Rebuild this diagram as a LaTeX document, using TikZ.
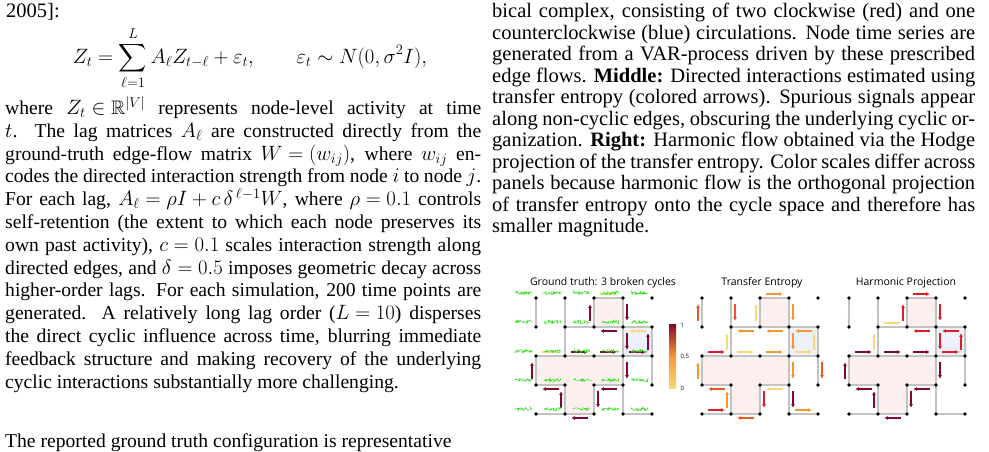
\documentclass[tikz,border=0pt]{standalone}
\usepackage{amsmath, amssymb}
\usepackage{fontspec}
\setmainfont{Liberation Serif}
\newfontfamily\figsans{Open Sans}
\usetikzlibrary{calc, arrows.meta, positioning, decorations.pathmorphing, decorations.markings}
\definecolor{gtred}{RGB}{128,10,40}
\definecolor{tred}{RGB}{220,30,40}
\definecolor{tor}{RGB}{240,85,40}
\definecolor{tora}{RGB}{246,150,50}
\definecolor{tyel}{RGB}{250,215,120}
\definecolor{cyclepink}{RGB}{252,240,238}
\definecolor{cycleblue}{RGB}{238,240,252}
\definecolor{edgegray}{RGB}{195,195,195}
\definecolor{noisegreen}{RGB}{40,225,20}
\thickmuskip=5mu
\medmuskip=4mu
\tikzset{
  gpt/.style={inner sep=0pt, minimum size=0pt},
  gedge/.style={edgegray, line width=1.2pt, postaction={decorate},
    decoration={markings, mark=at position 0.55 with {\arrow{Stealth[length=3pt,width=3pt]}}}},
  flow/.style={line width=1.4pt, -{Latex[length=3.5pt,width=4pt]}},
  noise/.style={noisegreen, line width=0.5pt, decorate,
    decoration={random steps, segment length=0.7pt, amplitude=1.6pt}},
  paneltitle/.style={font=\figsans\fontsize{10.5}{12}\selectfont, anchor=base},
  bodytext/.style={anchor=north west, inner sep=0pt, align=justify}
}
% one panel: x origin, name prefix, flow arrows
\newcommand{\gridpanel}[3]{%
  \begin{scope}[shift={(#1,298)}]
    \foreach \c in {0,...,4}
      \foreach \r in {0,...,4}
        \node[gpt] (#2-\c-\r) at (\c*29,\r*29) {};
  \end{scope}
  % cycles
  \fill[cyclepink] (#2-2-0.center) rectangle (#2-3-1.center);
  \fill[cycleblue] (#2-3-1.center) rectangle (#2-4-2.center);
  \fill[cyclepink] (#2-0-2.center) -- (#2-3-2.center) -- (#2-3-3.center) -- (#2-2-3.center)
    -- (#2-2-4.center) -- (#2-1-4.center) -- (#2-1-3.center) -- (#2-0-3.center) -- cycle;
  % edges
  \foreach \a/\b/\c/\d in {2/0/3/0, 2/1/1/1, 3/1/2/1, 4/1/3/1, 0/2/1/2, 1/2/2/2, 2/2/3/2, 4/2/3/2,
      0/3/1/3, 3/3/2/3, 0/4/1/4, 2/4/1/4, 3/4/4/4,
      0/1/0/0, 0/3/0/2, 1/0/1/1, 1/2/1/1, 1/3/1/4, 2/0/2/1, 2/3/2/4,
      3/0/3/1, 3/1/3/2, 3/2/3/3, 3/3/3/4, 4/1/4/2, 4/2/4/3}
    \draw[gedge] (#2-\a-\b.center) -- (#2-\c-\d.center);
  % flows
  \foreach \a/\b/\c/\d/\col in {#3}
    \draw[flow, draw=\col] ($(#2-\a-\b.center)!0.22!(#2-\c-\d.center)!4pt!90:(#2-\c-\d.center)$)
      -- ($(#2-\a-\b.center)!0.78!(#2-\c-\d.center)!4pt!90:(#2-\c-\d.center)$);
  \foreach \c in {0,...,4}
    \foreach \r in {0,...,4}
      \fill (#2-\c-\r.center) circle (1.8pt);
}

\begin{document}
\begin{tikzpicture}[x=1pt, y=-1pt]
\useasboundingbox (0,0) rectangle (989,451);
\fill[white] (0,0) rectangle (989,451);

% left column
\node[bodytext] (cite) at (6,3) {\fontsize{20.5}{22.8}\selectfont 2005]:};
\node (eqn) at (250,58) {\fontsize{19.6}{22.8}\selectfont
  $\displaystyle Z_t = \sum_{\ell=1}^{L} A_\ell Z_{t-\ell} + \varepsilon_t, \qquad \varepsilon_t \sim N(0,\sigma^2 I),$};
\node[bodytext, text width=476pt] (lefttext) at (5,96) {\fontsize{19.6}{22.8}\selectfont
  where $Z_t \in \mathbb{R}^{|V|}$ represents node-level activity at time\linebreak
  $t$. The lag matrices $A_\ell$ are constructed directly from the\linebreak
  ground-truth edge-flow matrix $W=(w_{ij})$, where $w_{ij}$ en-\linebreak
  codes the directed interaction strength from node $i$ to node $j$.\linebreak
  For each lag, $A_\ell = \rho I + c\,\delta^{\,\ell-1}W$, where $\rho=0.1$ controls\linebreak
  self-retention (the extent to which each node preserves its\linebreak
  own past activity), $c=0.1$ scales interaction strength along\linebreak
  directed edges, and $\delta=0.5$ imposes geometric decay across\linebreak
  higher-order lags. For each simulation, 200 time points are\linebreak
  generated. A relatively long lag order ($L=10$) disperses\linebreak
  the direct cyclic influence across time, blurring immediate\linebreak
  feedback structure and making recovery of the underlying\linebreak
  cyclic interactions substantially more challenging.\par};
\node[bodytext, text width=476pt] (nextpar) at (5,433) {\fontsize{19.6}{22.8}\selectfont
  The reported ground truth configuration is representative};

% right column (caption)
\node[bodytext, text width=483pt] (caption) at (492,3) {\fontsize{20.5}{21.5}\selectfont
  bical complex, consisting of two clockwise (red) and one\linebreak
  counterclockwise (blue) circulations. Node time series are\linebreak
  generated from a VAR-process driven by these prescribed\linebreak
  edge flows. \textbf{Middle:} Directed interactions estimated using\linebreak
  transfer entropy (colored arrows). Spurious signals appear\linebreak
  along non-cyclic edges, obscuring the underlying cyclic or-\linebreak
  ganization. \textbf{Right:} Harmonic flow obtained via the Hodge\linebreak
  projection of the transfer entropy. Color scales differ across\linebreak
  panels because harmonic flow is the orthogonal projection\linebreak
  of transfer entropy onto the cycle space and therefore has\linebreak
  smaller magnitude.\par};

% panel titles
\node[paneltitle] (title1) at (603,285) {Ground truth: 3 broken cycles};
\node[paneltitle] (title2) at (762,285) {Transfer Entropy};
\node[paneltitle] (title3) at (906,285) {Harmonic Projection};

% Ground truth
\gridpanel{536}{gt}{2/1/2/0/gtred, 2/0/3/0/tyel, 3/0/3/1/gtred, 3/1/2/1/gtred,
  4/1/3/1/tyel, 3/1/3/2/gtred, 3/2/4/2/gtred, 4/2/4/1/gtred,
  0/2/1/2/tyel, 1/2/2/2/gtred, 2/2/3/2/gtred, 3/2/3/3/gtred, 3/3/2/3/gtred,
  2/3/2/4/gtred, 2/4/1/4/gtred, 1/4/1/3/gtred, 1/3/0/3/gtred, 0/3/0/2/gtred}
\foreach \c in {0,...,4}
  \foreach \r in {0,...,4}
    \draw[noise] ($(gt-\c-\r.center)+(-21,-5)$) -- ++(17,0);

% colour bar
\shade[top color=gtred, bottom color=tyel, middle color=tora] (669,324) rectangle (676,388);
\node[font=\figsans\fontsize{6}{7}\selectfont, right=1pt] (cb1) at (676,325) {1};
\node[font=\figsans\fontsize{6}{7}\selectfont, right=1pt] (cb2) at (676,356) {0.5};
\node[font=\figsans\fontsize{6}{7}\selectfont, right=1pt] (cb3) at (676,388) {0};

% Transfer entropy
\gridpanel{702}{te}{0/1/0/0/tor, 1/0/1/1/tor, 2/1/2/0/tyel, 2/0/3/0/tora, 3/0/3/1/tora,
  2/1/1/1/tora, 3/1/2/1/tora, 4/1/3/1/tora, 1/2/1/1/tyel, 3/1/3/2/tora, 4/2/4/1/tyel,
  3/2/4/2/tyel, 0/2/1/2/tred, 1/2/2/2/tyel, 2/2/3/2/tora, 3/2/3/3/tora, 4/2/4/3/tor,
  0/3/0/2/tora, 1/3/0/3/tor, 3/3/2/3/tyel, 1/4/1/3/tora, 2/3/2/4/tred, 3/3/3/4/gtred,
  0/4/1/4/tred, 2/4/1/4/tor, 3/4/4/4/tora}

% Harmonic projection
\gridpanel{849}{hp}{2/1/2/0/tred, 2/0/3/0/tred, 3/0/3/1/tred, 3/1/2/1/tred,
  1/1/2/1/tyel, 1/2/1/1/tyel, 4/1/3/1/tred, 3/1/3/2/tred, 3/2/4/2/tred, 4/2/4/1/tred,
  0/2/1/2/gtred, 1/2/2/2/gtred, 2/2/3/2/gtred, 3/2/3/3/gtred, 3/3/2/3/gtred,
  2/3/2/4/gtred, 2/4/1/4/gtred, 1/4/1/3/gtred, 1/3/0/3/gtred, 0/3/0/2/gtred}
\end{tikzpicture}
\end{document}
